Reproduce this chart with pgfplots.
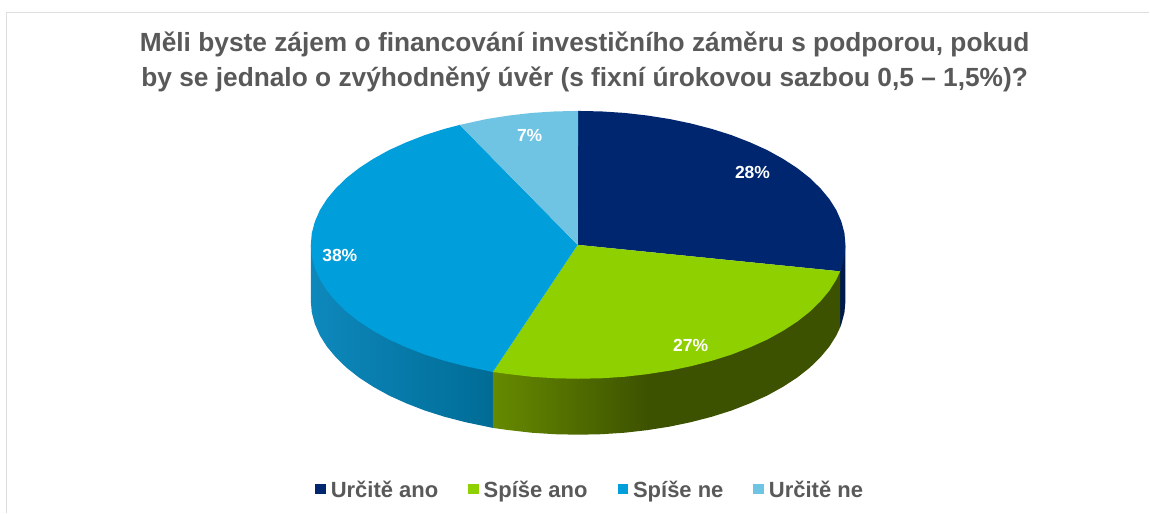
\documentclass[border=0pt]{standalone}
\usepackage{fontspec}
\setmainfont{Liberation Sans}
\usepackage{pgfplots}
\pgfplotsset{compat=1.18}
\definecolor{navytop}{HTML}{00266F}
\definecolor{greentop}{HTML}{8FD100}
\definecolor{bluetop}{HTML}{009EDA}
\definecolor{lighttop}{HTML}{70C4E3}
\definecolor{navyside}{HTML}{001A4D}
\definecolor{txt}{HTML}{595959}
\definecolor{frame}{HTML}{DEDEDE}

\begin{document}
\begin{tikzpicture}
\begin{axis}[
  scale only axis, width=1150pt, height=513pt,
  xmin=0, xmax=1150, ymin=0, ymax=513,
  y dir=reverse,
  ticks=none, axis line style={draw=none},
  clip=false, no markers,
  title={Měli byste zájem o financování investičního záměru s podporou, pokud\\by se jednalo o zvýhodněný úvěr (s fixní úrokovou sazbou 0,5 – 1,5\%)?},
  title style={at={(0.5087,0.868)}, anchor=center, align=center, text=txt,
    font=\fontsize{26.3}{34.5}\selectfont\bfseries},
  legend columns=4,
  legend style={at={(0.5135,0.045)}, anchor=center, draw=none, fill=none, text=txt,
    font=\fontsize{22}{26}\selectfont\bfseries,
    /tikz/every even column/.append style={column sep=28pt},
    /tikz/every odd column/.append style={column sep=3pt}},
  legend image code/.code={\fill[#1,draw=none] (0pt,-4.5pt) rectangle (10.5pt,6pt);},
]
\path (rel axis cs:0,0) rectangle (rel axis cs:1,1);

% frame of the picture
\addplot[frame, line width=1.5pt, forget plot] coordinates {(6.5,513) (6.5,12.5) (1150,12.5)};

% side walls
\addplot[forget plot, draw=none, fill=navyside] coordinates {
  (846,245) (846,301) (845,312.7) (841.9,324.3) (840.7,327.5) (840.7,271.5) (846,245)};
\addplot[forget plot, draw=none, shade, left color={rgb,255:red,14;green,136;blue,188}, right color={rgb,255:red,0;green,108;blue,150}] coordinates {
  (311,245) (311,301) (312,312.7) (315.1,324.3) (320.1,335.7) (327.1,346.8) (336.1,357.6)
  (346.8,368) (359.4,377.9) (373.6,387.1) (389.3,395.8) (406.6,403.6) (425.1,410.8)
  (444.7,417) (465.5,422.4) (487,426.9) (493.2,428.2) (493.2,372.2) (311,245)};
\addplot[forget plot, draw=none, shade, left color={rgb,255:red,102;green,138;blue,0}, right color={rgb,255:red,61;green,82;blue,0}] coordinates {
  (493.2,372.2) (493.2,428.2) (509.3,430.4) (532,433) (555.2,434.5) (578.5,435) (601.8,434.5)
  (625,433) (647.7,430.4) (648.2,430.3) (648.2,372) (493.2,372.2)};
\addplot[forget plot, draw=none, fill={rgb,255:red,61;green,82;blue,0}] coordinates {
  (647.7,372) (647.7,430.4) (670,426.9) (691.5,422.4) (712.3,417) (731.9,410.8) (750.4,403.6)
  (767.7,395.8) (783.4,387.1) (797.6,377.9) (810.2,368) (820.9,357.6) (829.9,346.8)
  (836.9,335.7) (840.7,327.5) (840.7,271.5) (647.7,372)};

% top of the pie
\addplot[fill=navytop, draw=none] coordinates {
  (578,245) (578.5,111) (601.8,111.5) (625,113) (647.7,115.6) (670,119.1) (691.5,123.6) (712.3,129)
  (731.9,135.2) (750.4,142.4) (767.7,150.2) (783.4,158.9) (797.6,168.1) (810.2,178) (820.9,188.4)
  (829.9,199.2) (836.9,210.3) (841.9,221.7) (845,233.3) (846,245) (845,256.7) (841.9,268.3)
  (840.7,271.5) (578,245)};
\addlegendentry{Určitě ano}
\addplot[fill=greentop, draw=none] coordinates {
  (578,245) (840.7,271.5) (836.9,279.7) (829.9,290.8) (820.9,301.6) (810.2,312) (797.6,321.9)
  (783.4,331.1) (767.7,339.8) (750.4,347.6) (731.9,354.8) (712.3,361) (691.5,366.4) (670,370.9)
  (647.7,374.4) (625,377) (601.8,378.5) (578.5,379) (555.2,378.5) (532,377) (509.3,374.4)
  (493.2,372.2) (578,245)};
\addlegendentry{Spíše ano}
\addplot[fill=bluetop, draw=none] coordinates {
  (578,245) (493.2,372.2) (487,370.9) (465.5,366.4) (444.7,361) (425.1,354.8) (406.6,347.6)
  (389.3,339.8) (373.6,331.1) (359.4,321.9) (346.8,312) (336.1,301.6) (327.1,290.8) (320.1,279.7)
  (315.1,268.3) (312,256.7) (311,245) (312,233.3) (315.1,221.7) (320.1,210.3) (327.1,199.2)
  (336.1,188.4) (346.8,178) (359.4,168.1) (373.6,158.9) (389.3,150.2) (406.6,142.4) (425.1,135.2)
  (444.7,129) (460,125) (578,245)};
\addlegendentry{Spíše ne}
\addplot[fill=lighttop, draw=none] coordinates {
  (578,245) (460,125) (487,119.1) (509.3,115.6) (532,113) (555.2,111.5) (578.5,111) (578,245)};
\addlegendentry{Určitě ne}

% data labels
\addplot[forget plot, draw=none, point meta=explicit symbolic, nodes near coords,
  every node near coord/.append style={anchor=center, text=white, inner sep=0pt,
    font=\fontsize{17.5}{20}\selectfont\bfseries}] coordinates {
  (753,173) [28\%]
  (691,346) [27\%]
  (340,256) [38\%]
  (530,136) [7\%]
};
\end{axis}
\end{tikzpicture}
\end{document}
